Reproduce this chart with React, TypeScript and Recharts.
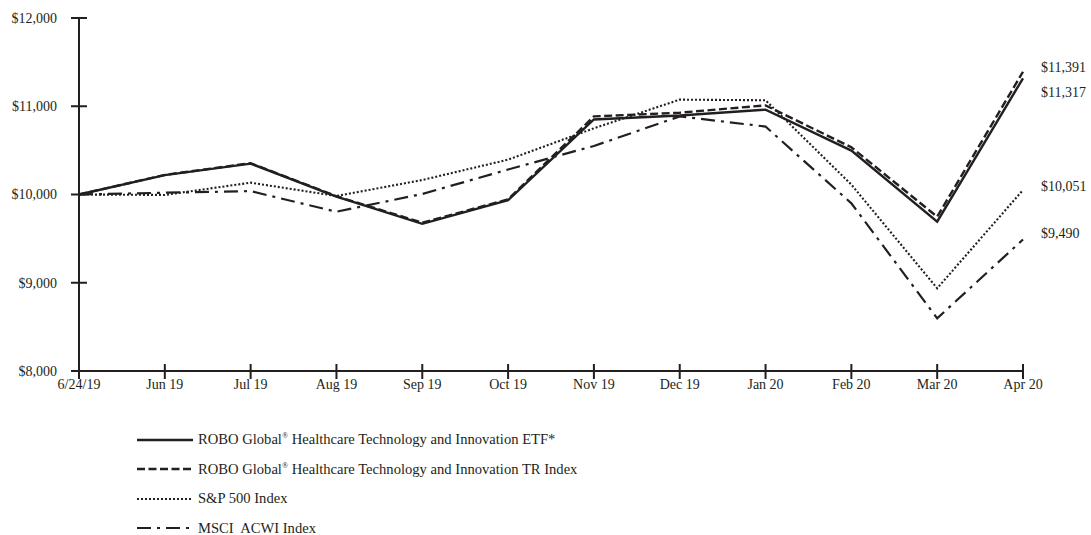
import React from 'react';
import { LineChart, Line, XAxis, YAxis, Legend, LabelList } from 'recharts';

const categories = ['6/24/19', 'Jun 19', 'Jul 19', 'Aug 19', 'Sep 19', 'Oct 19', 'Nov 19', 'Dec 19', 'Jan 20', 'Feb 20', 'Mar 20', 'Apr 20'];
const etf = [10000, 10220, 10350, 9975, 9668, 9935, 10850, 10895, 10962, 10497, 9692, 11317];
const trIndex = [10000, 10222, 10355, 9980, 9680, 9945, 10885, 10927, 11010, 10535, 9748, 11391];
const sp500 = [10000, 9995, 10134, 9983, 10164, 10395, 10750, 11075, 11068, 10112, 8937, 10051];
const msci = [10000, 10020, 10038, 9805, 10006, 10283, 10550, 10885, 10770, 9900, 8597, 9490];
const yTicks = [8000, 9000, 10000, 11000, 12000];

const data = categories.map((c, i) => ({ cat: c, etf: etf[i], tr: trIndex[i], sp: sp500[i], msci: msci[i] }));

const INK = '#231f20';
const FONT = '"Liberation Serif", "Times New Roman", serif';

const fmt = (v: number) => '$' + v.toLocaleString('en-US');

const series = [
  { key: 'etf', name: 'ROBO Global', sup: true, rest: ' Healthcare Technology and Innovation ETF*', dash: undefined as string | undefined, width: 2.4, labelDy: 13.5 },
  { key: 'tr', name: 'ROBO Global', sup: true, rest: ' Healthcare Technology and Innovation TR Index', dash: '8 3.5', width: 2.4, labelDy: -4.5 },
  { key: 'sp', name: 'S&P 500 Index', sup: false, rest: '', dash: '2 2', width: 2.1, labelDy: -3.5 },
  { key: 'msci', name: 'MSCI  ACWI Index', sup: false, rest: '', dash: '14 6 3 6', width: 2.2, labelDy: -6.5 },
];

const YTick = (props: any) => {
  const { x, y, payload } = props;
  return (
    <g>
      <line x1={x + 14} x2={x + 30} y1={y} y2={y} stroke={INK} strokeWidth={2} />
      <text x={x} y={y} dy="0.35em" textAnchor="end" fontFamily={FONT} fontSize={14} fill={INK}>
        {fmt(payload.value)}
      </text>
    </g>
  );
};

const XTick = (props: any) => {
  const { x, y, payload } = props;
  return (
    <g>
      <line x1={x} x2={x} y1={y - 19} y2={y - 4} stroke={INK} strokeWidth={2} />
      <text x={x} y={y + 6} textAnchor="middle" fontFamily={FONT} fontSize={14} fill={INK}>
        {payload.value}
      </text>
    </g>
  );
};

const endLabel = (dy: number) => (props: any) => {
  const { x, y, value, index } = props;
  if (index !== categories.length - 1) return null;
  return (
    <text x={x + 18} y={y + dy} dy="0.35em" textAnchor="start" fontFamily={FONT} fontSize={14} fill={INK}>
      {fmt(value)}
    </text>
  );
};

const LegendContent = () => (
  <div style={{ fontFamily: FONT, fontSize: 14.6, color: INK }}>
    {series.map((s) => (
      <div key={s.key} style={{ height: 29.5, display: 'flex', alignItems: 'center', whiteSpace: 'pre' }}>
        <svg width={56} height={6} style={{ marginRight: 5 }}>
          <line x1={0} x2={56} y1={3} y2={3} stroke={INK} strokeWidth={s.width} strokeDasharray={s.dash} />
        </svg>
        <span>
          {s.name}
          {s.sup ? <sup style={{ fontSize: 8 }}>®</sup> : null}
          {s.rest}
        </span>
      </div>
    ))}
  </div>
);

export default function App() {
  return (
    <div style={{ position: 'absolute', left: 0, top: 0, background: '#fff' }}>
      <LineChart width={1091} height={535} data={data} margin={{ top: 18, right: 68, left: 0, bottom: 134 }}>
        <XAxis
          dataKey="cat"
          type="category"
          interval={0}
          axisLine={{ stroke: INK, strokeWidth: 2 }}
          tickLine={false}
          tickSize={8}
          tickMargin={4}
          height={30}
          tick={<XTick />}
        />
        <YAxis
          domain={[8000, 12000]}
          ticks={yTicks}
          interval={0}
          width={79}
          axisLine={{ stroke: INK, strokeWidth: 2 }}
          tickLine={false}
          tickSize={8}
          tickMargin={14}
          tick={<YTick />}
        />
        <Legend
          layout="vertical"
          align="center"
          verticalAlign="middle"
          content={<LegendContent />}
          wrapperStyle={{ left: 137, top: 425, width: 650, height: 120 }}
        />
        {series.map((s) => (
          <Line
            key={s.key}
            dataKey={s.key}
            type="linear"
            stroke={INK}
            strokeWidth={s.width}
            strokeDasharray={s.dash}
            dot={false}
            activeDot={false}
            isAnimationActive={false}
          >
            <LabelList dataKey={s.key} content={endLabel(s.labelDy)} />
          </Line>
        ))}
      </LineChart>
    </div>
  );
}
